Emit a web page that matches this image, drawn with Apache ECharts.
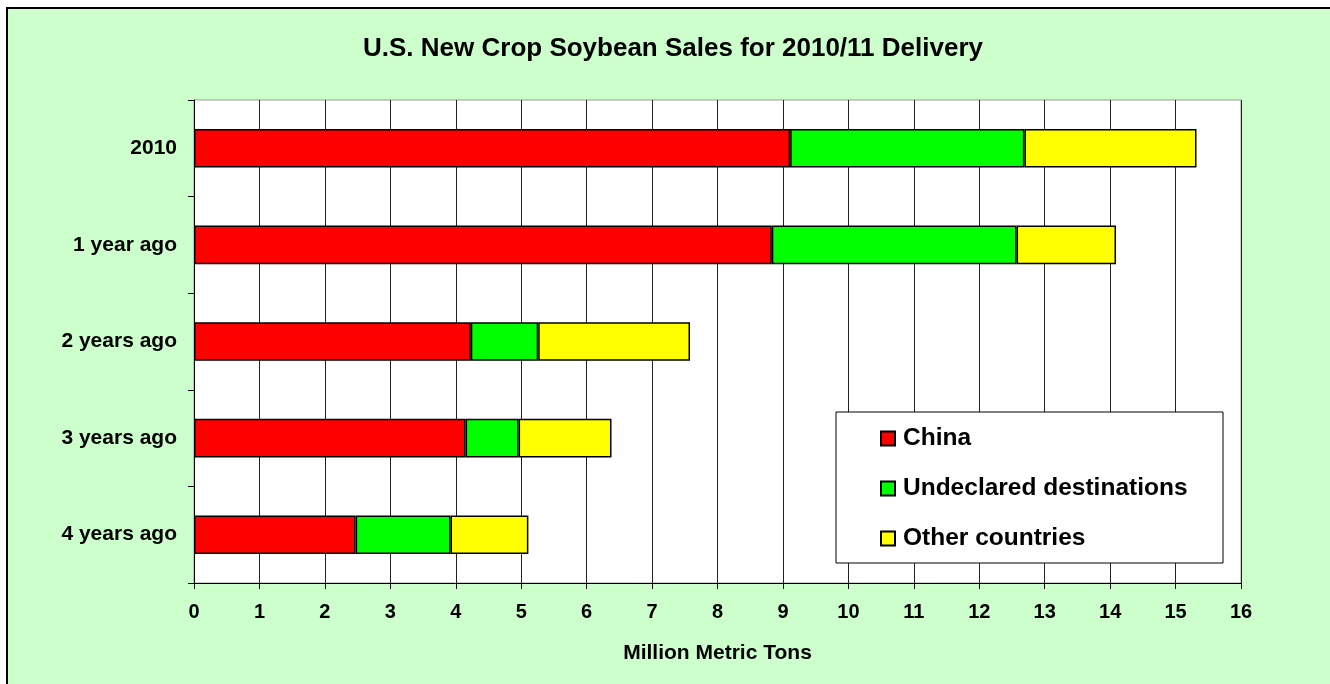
<!DOCTYPE html>
<html>
<head>
<meta charset="utf-8">
<script src="https://cdn.jsdelivr.net/npm/echarts@6/dist/echarts.min.js"></script>
<style>
html,body{margin:0;padding:0;background:#fff;}
#c{width:1330px;height:684px;}
</style>
</head>
<body>
<div id="c"></div>
<script>
const categories = ['2010', '1 year ago', '2 years ago', '3 years ago', '4 years ago'];
const china = [9.11, 8.83, 4.23, 4.15, 2.47];
const undeclared = [3.58, 3.74, 1.03, 0.81, 1.45];
const others = [2.63, 1.52, 2.32, 1.42, 1.19];
const seriesNames = ['China', 'Undeclared destinations', 'Other countries'];
const xTicks = [0, 16, 1];

const chart = echarts.init(document.getElementById('c'));
const font = 'Arial, "Liberation Sans", sans-serif';
const barStyle = (c) => ({ color: c, borderColor: '#000', borderWidth: 1.5 });
const mk = (name, data, c) => ({
  name, type: 'bar', stack: 'total', data, barWidth: '40%',
  itemStyle: barStyle(c), emphasis: { disabled: true }, z: 2
});

chart.setOption({
  animation: false,
  backgroundColor: '#fff',
  graphic: [
    { type: 'rect', z: -10, silent: true, shape: { x: 7, y: 8, width: 1340, height: 700 },
      style: { fill: '#CCFFCC', stroke: '#000', lineWidth: 2 } },
    { type: 'rect', z: 3, silent: true, shape: { x: 836, y: 412, width: 387, height: 151 },
      style: { fill: '#fff', stroke: '#000', lineWidth: 1 } }
  ],
  title: {
    text: 'U.S. New Crop Soybean Sales for 2010/11 Delivery',
    left: 668, top: 31, textAlign: 'center',
    textStyle: { fontFamily: font, fontWeight: 'bold', fontSize: 26, color: '#000' }
  },
  legend: {
    orient: 'vertical', left: 875, top: 421, itemGap: 25, z: 5,
    itemWidth: 14, itemHeight: 14, icon: 'rect',
    data: seriesNames,
    textStyle: { fontFamily: font, fontWeight: 'bold', fontSize: 24.5, color: '#000', padding: [0, 0, 0, 3] }
  },
  grid: { left: 194, right: 89, top: 100, bottom: 101, show: true, backgroundColor: '#fff', borderColor: '#999', borderWidth: 1 },
  xAxis: {
    type: 'value', min: xTicks[0], max: xTicks[1], interval: xTicks[2],
    name: 'Million Metric Tons', nameLocation: 'middle', nameGap: 60,
    nameTextStyle: { fontFamily: font, fontWeight: 'bold', fontSize: 21, color: '#000' },
    axisLine: { show: true, lineStyle: { color: '#000', width: 1 } },
    axisTick: { show: true, length: 6, lineStyle: { color: '#000' } },
    axisLabel: { margin: 19, fontFamily: font, fontWeight: 'bold', fontSize: 20, color: '#000' },
    splitLine: { show: true, lineStyle: { color: '#222', width: 1 } }
  },
  yAxis: {
    type: 'category', data: categories, inverse: true,
    axisLine: { show: true, lineStyle: { color: '#000', width: 1 } },
    axisTick: { show: true, length: 6, lineStyle: { color: '#000' } },
    axisLabel: { margin: 17, fontFamily: font, fontWeight: 'bold', fontSize: 21, color: '#000' },
    splitLine: { show: false }
  },
  series: [
    mk(seriesNames[0], china, '#FF0000'),
    mk(seriesNames[1], undeclared, '#00FF00'),
    mk(seriesNames[2], others, '#FFFF00')
  ]
});
</script>
</body>
</html>
